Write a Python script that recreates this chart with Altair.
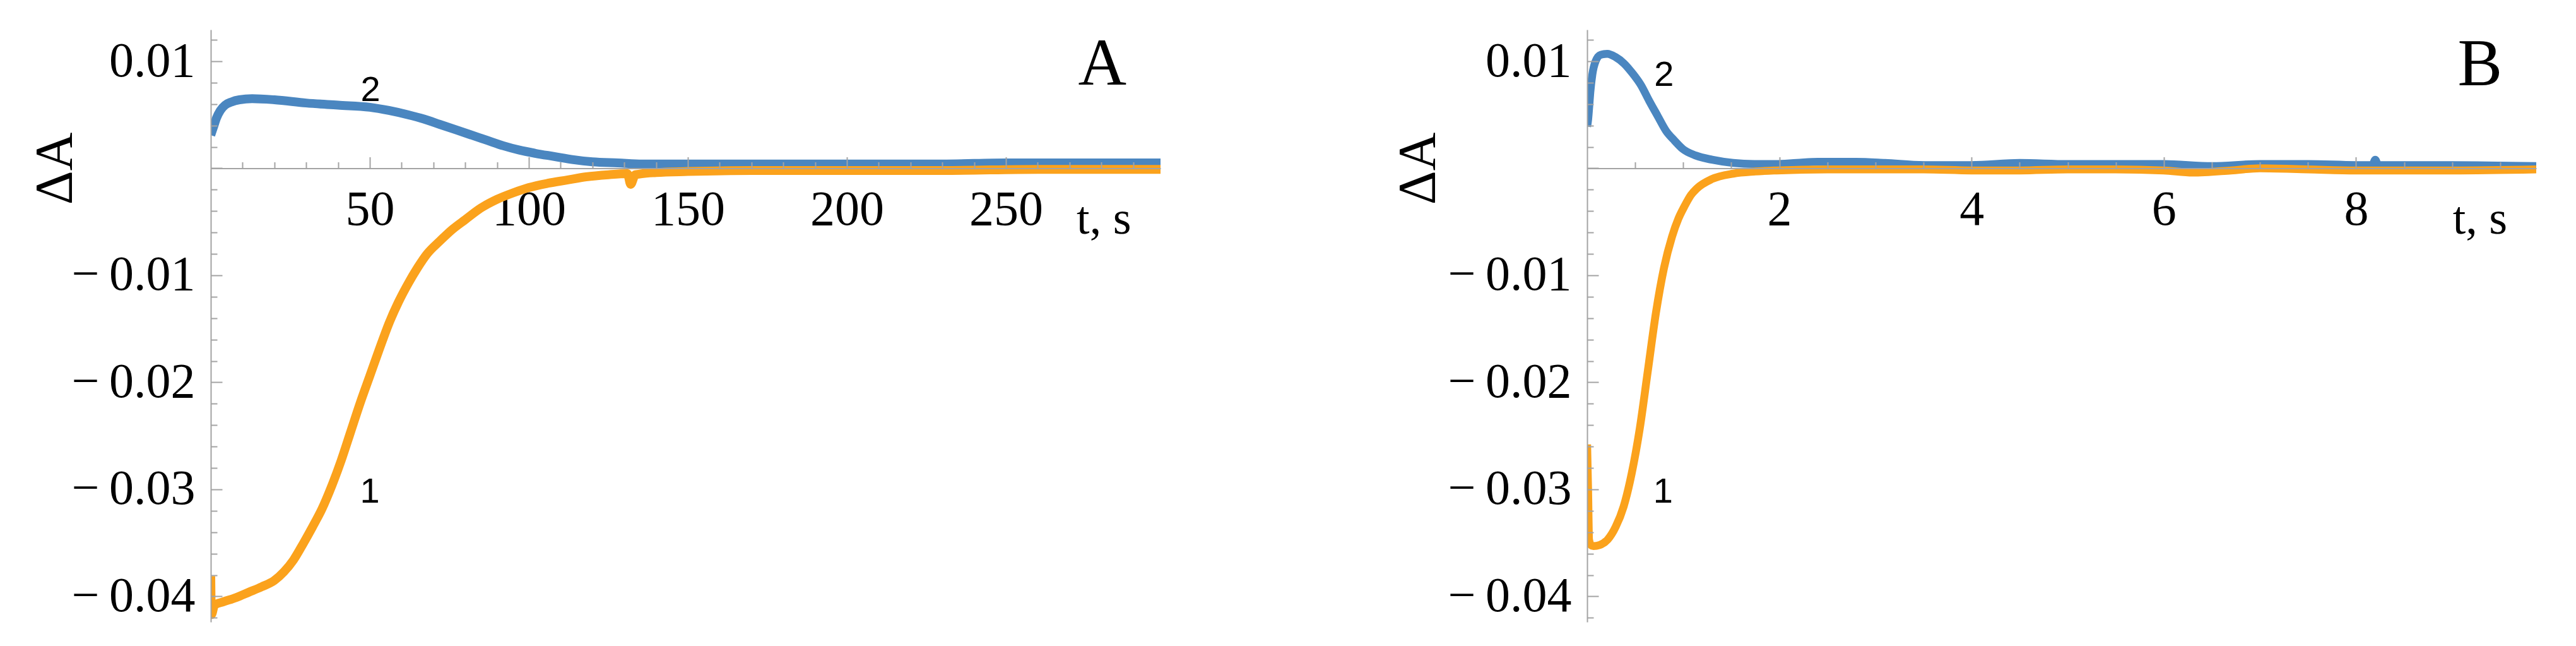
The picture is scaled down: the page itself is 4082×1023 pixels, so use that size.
import altair as alt
import pandas as pd

# ---------------- data ----------------
# Panel A: t in s
A_BLUE_T = [0.0, 0.8, 1.8, 3.0, 4.5, 6.5, 9.0, 13, 20, 30, 40, 50, 56, 62, 67, 72, 77, 82, 87, 92,
            97, 102, 108, 114, 120, 128, 136, 150, 170, 190, 210, 230, 250, 270, 290, 298.6]
A_BLUE_Y = [0.0031, 0.0038, 0.0047, 0.0054, 0.0059, 0.0062, 0.0064, 0.0065, 0.0064, 0.0061,
            0.0059, 0.0057, 0.0054, 0.0050, 0.0046, 0.0041, 0.0036, 0.0031, 0.0026, 0.0021,
            0.0017, 0.0014, 0.0011, 0.0008, 0.0006, 0.0005, 0.0004, 0.0004, 0.0004, 0.0004,
            0.0004, 0.0004, 0.0005, 0.0005, 0.0005, 0.0005]
A_ORANGE_T = [0.0, 0.2, 1.2, 4, 8, 12, 16, 20, 23, 26, 29, 32, 35, 38, 41, 44, 47, 50, 53, 56,
              59, 62, 65, 68, 72, 76, 80, 85, 90, 95, 100, 106, 112, 118, 125, 131, 132, 133.5,
              140, 150, 170, 200, 230, 260, 298.6]
A_ORANGE_Y = [-0.0381, -0.0417, -0.0408, -0.0405, -0.0401, -0.0396, -0.0391, -0.0385, -0.0377, -0.0366,
              -0.0351, -0.0335, -0.0318, -0.0297, -0.0273, -0.0246, -0.0219, -0.0194, -0.0169, -0.0145,
              -0.0125, -0.0108, -0.0093, -0.0080, -0.0068, -0.0057, -0.0048, -0.0037, -0.0029, -0.0023,
              -0.0018, -0.0014, -0.0011, -0.0008, -0.0006, -0.0005, -0.0015, -0.0006, -0.0004, -0.0003,
              -0.0002, -0.0002, -0.0002, -0.0001, -0.0001]

# Panel B: t in s
B_BLUE_T = [0.0, 0.011, 0.022, 0.033, 0.055, 0.088, 0.14, 0.21, 0.295, 0.383,
            0.47, 0.558, 0.646, 0.733, 0.821, 0.908, 0.996, 1.127, 1.30, 1.52,
            1.74, 1.96, 2.18, 2.40, 2.8, 3.1, 3.5, 4.0, 4.5, 5.0,
            5.5, 6.0, 6.5, 7.0, 7.5, 8.0, 8.17, 8.2, 8.23, 9.0, 9.875]
B_BLUE_Y = [0.0039, 0.0046, 0.0058, 0.0071, 0.0088, 0.0100, 0.0106, 0.0107, 0.0104, 0.0098,
            0.0089, 0.0078, 0.0063, 0.0049, 0.0035, 0.0026, 0.0018, 0.0012, 0.0008, 0.0005,
            0.0004, 0.0004, 0.0005, 0.0006, 0.0006, 0.0005, 0.0003, 0.0003, 0.0005, 0.0004,
            0.0004, 0.0004, 0.0002, 0.0004, 0.0004, 0.0003, 0.0003, 0.0008, 0.0003, 0.0003, 0.0002]
B_ORANGE_T = [0.0, 0.01, 0.02, 0.04, 0.066, 0.13, 0.213, 0.297, 0.38, 0.464,
              0.548, 0.632, 0.716, 0.80, 0.883, 0.95, 1.01, 1.08, 1.14, 1.30,
              1.52, 1.75, 1.97, 2.5, 3.0, 3.5, 4.0, 4.5, 5.0, 5.5,
              6.0, 6.3, 6.7, 7.0, 7.5, 8.0, 8.5, 9.0, 9.875]
B_ORANGE_Y = [-0.0258, -0.0300, -0.0347, -0.0352, -0.0353, -0.0352, -0.0347, -0.0335, -0.0316, -0.0285,
              -0.0243, -0.0189, -0.0135, -0.0093, -0.0064, -0.0047, -0.0036, -0.0025, -0.0019, -0.0010,
              -0.0005, -0.0003, -0.0002, -0.0001, -0.0001, -0.0001, -0.0002, -0.0002, -0.0001, -0.0001,
              -0.0002, -0.0004, -0.0002, 0.0000, -0.0001, -0.0002, -0.0002, -0.0002, -0.0001]

# axis ticks / labels
Y_LABELS = [-0.04, -0.03, -0.02, -0.01, 0.01]
Y_MAJOR = [-0.04, -0.03, -0.02, -0.01, 0.0, 0.01]
Y_MINOR = [-0.042, -0.038, -0.036, -0.034, -0.032, -0.028, -0.026, -0.024, -0.022,
           -0.018, -0.016, -0.014, -0.012, -0.008, -0.006, -0.004, -0.002,
           0.002, 0.004, 0.006, 0.008, 0.012]
A_X_MAJOR = [50, 100, 150, 200, 250]
A_X_MINOR = [10, 20, 30, 40, 60, 70, 80, 90, 110, 120, 130, 140, 160, 170, 180, 190,
             210, 220, 230, 240, 260, 270, 280, 290]
B_X_MAJOR = [2, 4, 6, 8]
B_X_MINOR = [0.5, 1, 1.5, 2.5, 3, 3.5, 4.5, 5, 5.5, 6.5, 7, 7.5, 8.5, 9, 9.5]

# annotations (data coordinates)
A_CURVE_LABELS = {"text": ["2", "1"], "t": [50.2, 50.0], "v": [0.0063, -0.03124]}
B_CURVE_LABELS = {"text": ["2", "1"], "t": [0.80, 0.79], "v": [0.0077, -0.03124]}
A_LETTER = {"text": ["A"], "t": [280.3], "v": [0.00783]}
B_LETTER = {"text": ["B"], "t": [9.29], "v": [0.00776]}
A_UNIT = {"text": ["t, s"], "t": [280.8], "v": [-0.0061]}
B_UNIT = {"text": ["t, s"], "t": [9.29], "v": [-0.0061]}

# ---------------- styling ----------------
BLUE = "#4a86c0"
ORANGE = "#fba21c"
GRAY = "#a3a3a3"
SERIF = "Liberation Serif"
SANS = "Liberation Sans"
Y_DOMAIN = [-0.04239, 0.01295]
PLOT_H = 938

LABEL_EXPR = ("datum.value < 0 ? '\u2212\u2009' + format(-datum.value, '.2f') "
              ": format(datum.value, '.2f')")


def panel(bt, by, ot, oy, xdom, width, xmajor, xminor, curve_lbl, letter, unit,
          title_x, stroke):
    H = PLOT_H
    zero_px = H * Y_DOMAIN[1] / (Y_DOMAIN[1] - Y_DOMAIN[0])
    xs = alt.Scale(domain=xdom, nice=False, zero=False)
    ys = alt.Scale(domain=Y_DOMAIN, nice=False, zero=False)

    x_lab = alt.Axis(orient="bottom", offset=zero_px - H, values=xmajor, ticks=False,
                     tickSize=0, domain=False, grid=False, labelFont=SERIF,
                     labelFontSize=78, labelColor="black", labelPadding=27.5,
                     labelBaseline="top", labelFlush=False, labelOverlap=False,
                     labelLimit=0, format="d", title="")
    x_maj = alt.Axis(orient="top", offset=-zero_px, values=xmajor, labels=False,
                     tickSize=18, tickWidth=2, tickColor=GRAY, domain=True,
                     domainColor=GRAY, domainWidth=2, grid=False, title="", zindex=1)
    x_min = alt.Axis(orient="top", offset=-zero_px, values=xminor, labels=False,
                     tickSize=10, tickWidth=2, tickColor=GRAY, domain=False,
                     grid=False, title="", zindex=1)
    y_lab = alt.Axis(orient="left", values=Y_LABELS, ticks=False, tickSize=0,
                     domain=False, grid=False, labelFont=SERIF, labelFontSize=78,
                     labelColor="black", labelPadding=25, labelExpr=LABEL_EXPR,
                     labelFlush=False, labelOverlap=False, labelLimit=0,
                     title="\u0394A", titleFont=SERIF, titleFontSize=84,
                     titleFontWeight="normal", titleColor="black", titleAngle=270,
                     titleX=title_x, titleY=zero_px, titleAlign="center",
                     titleBaseline="alphabetic", titleLimit=0)
    y_maj = alt.Axis(orient="right", offset=-width, values=Y_MAJOR, labels=False,
                     tickSize=18, tickWidth=2, tickColor=GRAY, domain=True,
                     domainColor=GRAY, domainWidth=2, grid=False, title="", zindex=1)
    y_min = alt.Axis(orient="right", offset=-width, values=Y_MINOR, labels=False,
                     tickSize=10, tickWidth=2, tickColor=GRAY, domain=False,
                     grid=False, title="", zindex=1)

    blue = alt.Chart(pd.DataFrame({"t": bt, "v": by})).mark_line(
        color=BLUE, strokeWidth=stroke, interpolate="monotone", clip=True,
        strokeJoin="round").encode(
        x=alt.X("t:Q", scale=xs, axis=x_lab),
        y=alt.Y("v:Q", scale=ys, axis=y_lab))
    orange = alt.Chart(pd.DataFrame({"t": ot, "v": oy})).mark_line(
        color=ORANGE, strokeWidth=stroke, interpolate="monotone", clip=True,
        strokeJoin="round").encode(
        x=alt.X("t:Q", scale=xs, axis=x_maj),
        y=alt.Y("v:Q", scale=ys, axis=y_maj))
    nums = alt.Chart(pd.DataFrame(curve_lbl)).mark_text(
        font=SANS, fontSize=56, color="black", align="center",
        baseline="alphabetic").encode(
        x=alt.X("t:Q", scale=xs, axis=x_min),
        y=alt.Y("v:Q", scale=ys, axis=y_min),
        text="text:N")
    let = alt.Chart(pd.DataFrame(letter)).mark_text(
        font=SERIF, fontSize=106, color="black", align="center",
        baseline="alphabetic").encode(
        x=alt.X("t:Q", scale=xs, axis=None),
        y=alt.Y("v:Q", scale=ys, axis=None),
        text="text:N")
    un = alt.Chart(pd.DataFrame(unit)).mark_text(
        font=SERIF, fontSize=74, color="black", align="center",
        baseline="alphabetic").encode(
        x=alt.X("t:Q", scale=xs, axis=None),
        y=alt.Y("v:Q", scale=ys, axis=None),
        text="text:N")
    return alt.layer(blue, orange, nums, let, un).resolve_axis(
        x="independent", y="independent").properties(width=width, height=H)


pa = panel(A_BLUE_T, A_BLUE_Y, A_ORANGE_T, A_ORANGE_Y, [0, 298.6], 1505,
           A_X_MAJOR, A_X_MINOR, A_CURVE_LABELS, A_LETTER, A_UNIT, -220.5, 14)
pb = panel(B_BLUE_T, B_BLUE_Y, B_ORANGE_T, B_ORANGE_Y, [0, 9.875], 1504,
           B_X_MAJOR, B_X_MINOR, B_CURVE_LABELS, B_LETTER, B_UNIT, -242, 12.5)

chart = alt.hconcat(pa, pb, spacing=367).properties(
    padding={"left": 38, "top": 39, "right": 5, "bottom": 5},
    background="white",
).configure_view(strokeWidth=0)

chart.save("out.html", embed_options={"renderer": "svg", "actions": False})
